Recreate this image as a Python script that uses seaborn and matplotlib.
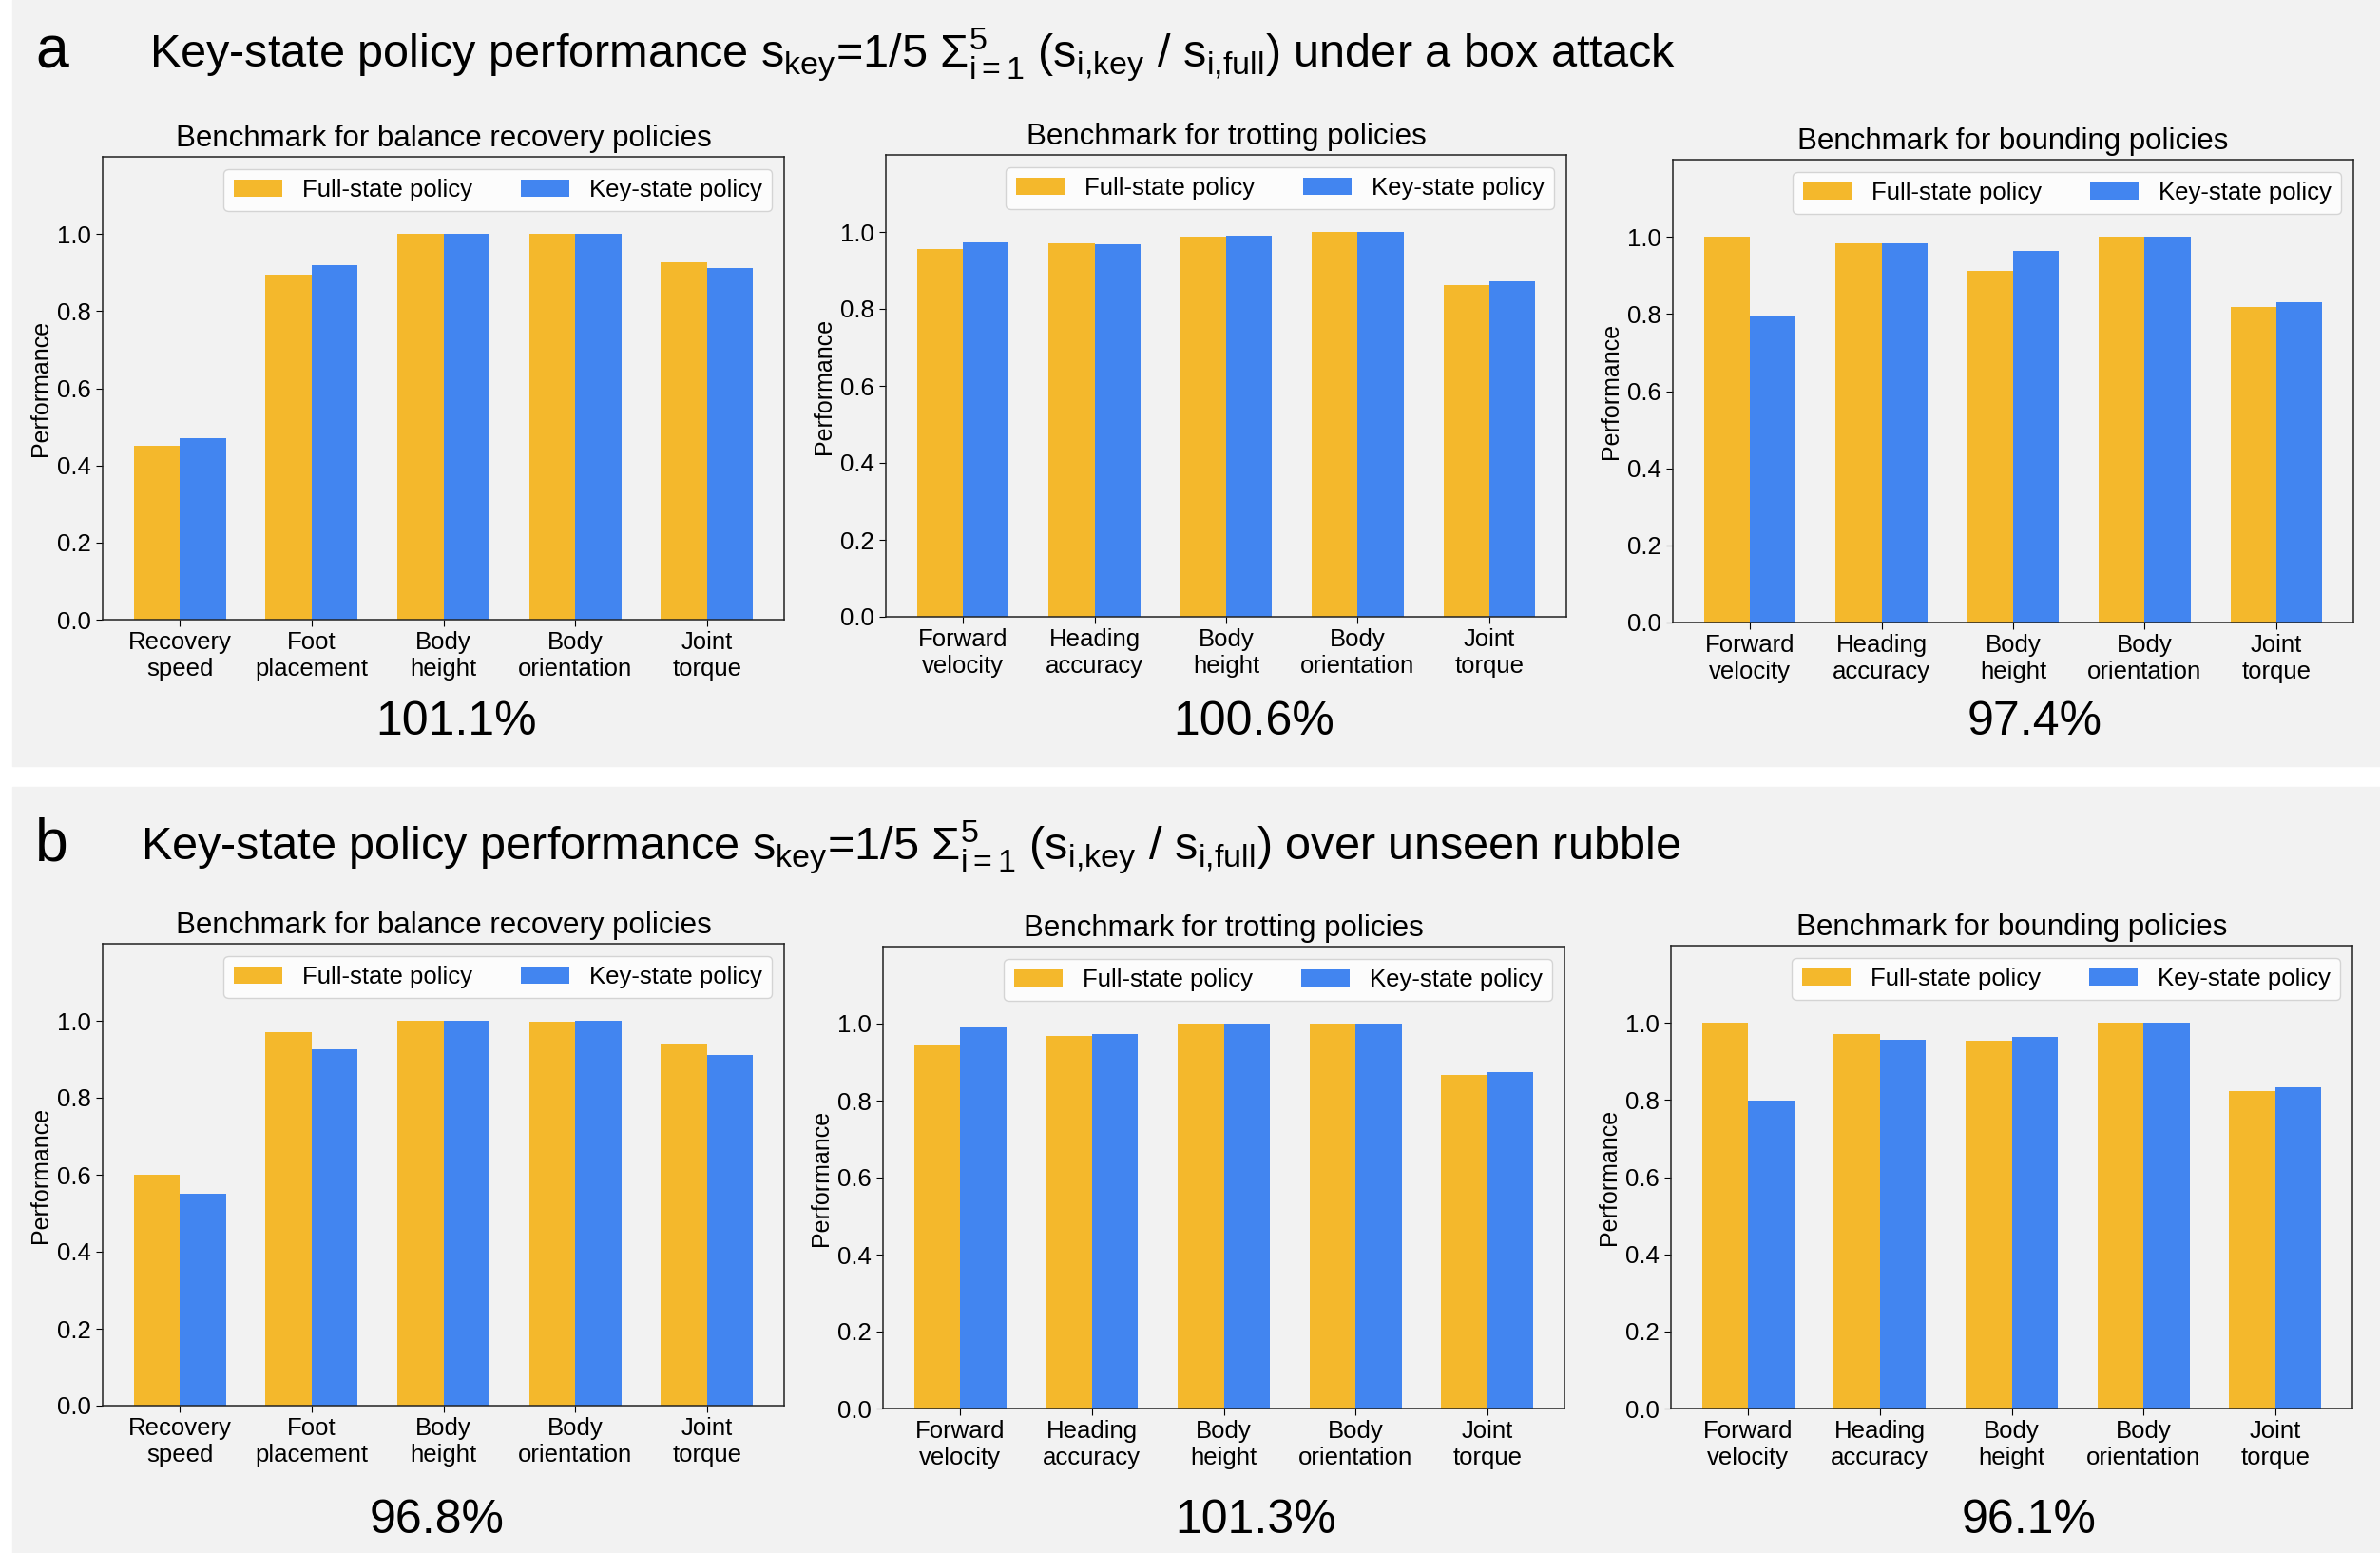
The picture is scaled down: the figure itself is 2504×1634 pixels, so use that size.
import pandas as pd
import matplotlib
matplotlib.use("Agg")
import matplotlib.pyplot as plt
from matplotlib.patches import Rectangle
import seaborn as sns

# categories for each gait
balance_cats = ["Recovery\nspeed", "Foot\nplacement", "Body\nheight", "Body\norientation", "Joint\ntorque"]
gait_cats = ["Forward\nvelocity", "Heading\naccuracy", "Body\nheight", "Body\norientation", "Joint\ntorque"]
policies = ["Full-state policy", "Key-state policy"]

# panel a: box attack
a_balance_full = [0.451, 0.895, 1.0, 1.0, 0.926]
a_balance_key = [0.470, 0.918, 1.0, 1.0, 0.912]
a_trot_full = [0.955, 0.970, 0.987, 1.0, 0.861]
a_trot_key = [0.973, 0.967, 0.989, 1.0, 0.871]
a_bound_full = [1.0, 0.982, 0.912, 1.0, 0.817]
a_bound_key = [0.795, 0.983, 0.964, 1.0, 0.831]
a_scores = ["101.1%", "100.6%", "97.4%"]

# panel b: unseen rubble
b_balance_full = [0.600, 0.971, 1.0, 0.998, 0.941]
b_balance_key = [0.550, 0.927, 1.0, 1.0, 0.910]
b_trot_full = [0.942, 0.969, 1.0, 1.0, 0.866]
b_trot_key = [0.989, 0.973, 1.0, 1.0, 0.875]
b_bound_full = [1.0, 0.972, 0.953, 1.0, 0.824]
b_bound_key = [0.799, 0.956, 0.963, 1.0, 0.834]
b_scores = ["96.8%", "101.3%", "96.1%"]

subtitles = ["Benchmark for balance recovery policies",
             "Benchmark for trotting policies",
             "Benchmark for bounding policies"]

ORANGE = "#F4B82C"
BLUE = "#4285F0"
PANEL = "#F2F2F2"

plt.rcParams["font.family"] = ["Liberation Sans", "DejaVu Sans"]
plt.rcParams["mathtext.fontset"] = "custom"
plt.rcParams["mathtext.rm"] = "Liberation Sans"
plt.rcParams["mathtext.it"] = "Liberation Sans:italic"
plt.rcParams["mathtext.bf"] = "Liberation Sans:bold"
plt.rcParams["mathtext.default"] = "regular"

W, H = 2504, 1634
fig = plt.figure(figsize=(W / 100, H / 100), dpi=100)
fig.patch.set_facecolor("white")


def px_box(l, t, r, b):
    return [l / W, 1 - b / H, (r - l) / W, (b - t) / H]


# grey panel backgrounds, kept behind the axes
fig.patches.append(Rectangle((13 / W, 1 - 806 / H), (W - 13) / W, 806 / H,
                             transform=fig.transFigure, color=PANEL, zorder=-10))
fig.patches.append(Rectangle((13 / W, 0), (W - 13) / W, (H - 828) / H,
                             transform=fig.transFigure, color=PANEL, zorder=-10))


def draw_bench(rect, cats, full, key, title):
    ax = fig.add_axes(rect)
    df = pd.DataFrame({
        "metric": cats * 2,
        "value": full + key,
        "policy": [policies[0]] * len(cats) + [policies[1]] * len(cats),
    })
    sns.barplot(data=df, x="metric", y="value", hue="policy", palette=[ORANGE, BLUE],
                width=0.7, saturation=1, linewidth=0, ax=ax)
    ax.set_facecolor(PANEL)
    ax.set_xlim(-0.585, 4.585)
    ax.set_ylim(0, 1.2)
    ax.set_yticks([0, 0.2, 0.4, 0.6, 0.8, 1.0])
    ax.set_yticklabels(["0.0", "0.2", "0.4", "0.6", "0.8", "1.0"])
    ax.set_xlabel("")
    ax.set_ylabel("Performance", fontsize=18)
    ax.set_title(title, fontsize=22.5, pad=8)
    ax.tick_params(labelsize=18.5, length=5)
    for s in ax.spines.values():
        s.set_color("#222222")
        s.set_linewidth(1.1)
    handles, labels = ax.get_legend_handles_labels()
    ax.legend(handles, labels, loc="upper right", ncol=2, fontsize=18.5)
    return ax


# panel a
draw_bench(px_box(108, 165, 825, 652), balance_cats, a_balance_full, a_balance_key, subtitles[0])
draw_bench(px_box(932, 163, 1648, 649), gait_cats, a_trot_full, a_trot_key, subtitles[1])
draw_bench(px_box(1760, 168, 2476, 655), gait_cats, a_bound_full, a_bound_key, subtitles[2])

# panel b
draw_bench(px_box(108, 993, 825, 1479), balance_cats, b_balance_full, b_balance_key, subtitles[0])
draw_bench(px_box(929, 996, 1646, 1482), gait_cats, b_trot_full, b_trot_key, subtitles[1])
draw_bench(px_box(1758, 995, 2475, 1482), gait_cats, b_bound_full, b_bound_key, subtitles[2])

# overall scores under each chart
for x, s in zip([480, 1319, 2141], a_scores):
    fig.text(x / W, 1 - 760 / H, s, ha="center", va="center", fontsize=36)
for x, s in zip([460, 1321, 2135], b_scores):
    fig.text(x / W, 1 - 1600 / H, s, ha="center", va="center", fontsize=36)

# panel headings
formula = r"s$_{key}$=1/5 $\Sigma_{i{=}1}^{5}$ (s$_{i{,}key}$ / s$_{i{,}full}$)"
fig.text(37 / W, 1 - 71 / H, "a", fontsize=45, va="baseline")
fig.text(157 / W, 1 - 71 / H, "Key-state policy performance " + formula + " under a box attack",
         fontsize=35, va="baseline")
fig.text(37 / W, 1 - 905 / H, "b", fontsize=45, va="baseline")
fig.text(148 / W, 1 - 905 / H, "Key-state policy performance " + formula + " over unseen rubble",
         fontsize=35, va="baseline")

fig.savefig("out.png", dpi=100, facecolor="white")
